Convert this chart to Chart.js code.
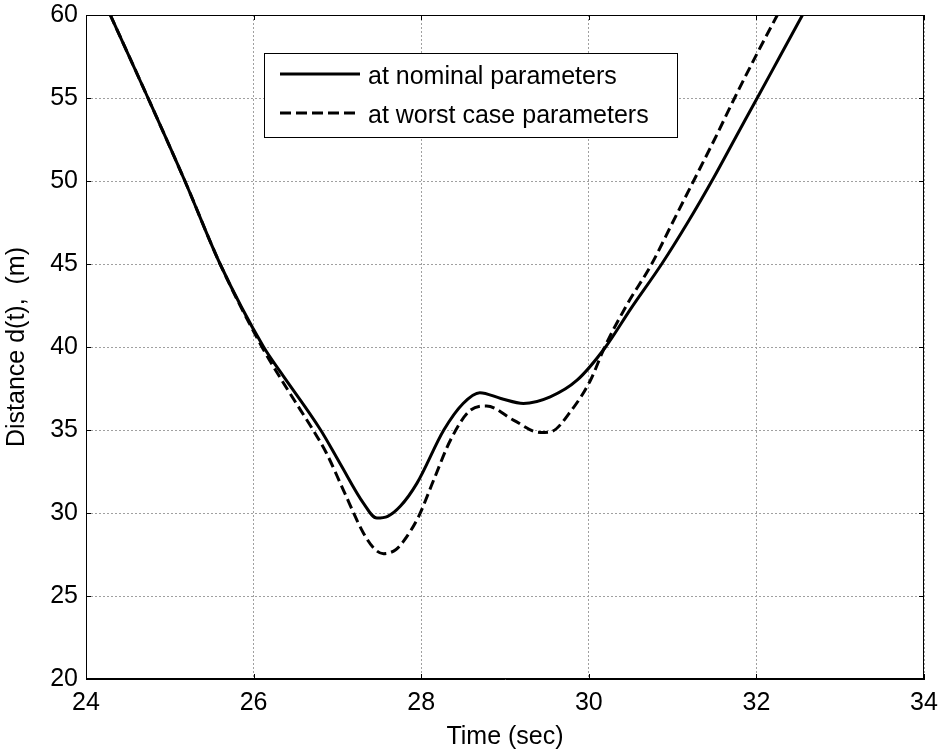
<!DOCTYPE html>
<html>
<head>
<meta charset="utf-8">
<script src="https://cdn.jsdelivr.net/npm/chart.js@4.4.0/dist/chart.umd.min.js"></script>
<style>
html, body { margin: 0; padding: 0; background: #fff; }
</style>
</head>
<body>
<canvas id="chartOne" width="940" height="754"></canvas>
<script>
// nominal parameters (solid)
let tNominal = [24.29, 24.74, 25.18, 25.6, 26.12, 26.32, 26.8, 27.03, 27.31, 27.47, 27.6, 27.75, 27.95, 28.27, 28.5, 28.7, 28.95, 29.22, 29.54, 29.86, 30.2, 30.5, 30.87, 31.18, 31.49, 31.76, 32.01, 32.28, 32.55];
let dNominal = [60, 55, 50, 45, 40, 38.5, 35, 33.0, 30.6, 29.7, 29.8, 30.4, 31.8, 35.0, 36.6, 37.25, 36.9, 36.6, 37.0, 38.0, 40, 42.3, 45, 47.5, 50.2, 52.7, 55, 57.5, 60];
// worst case parameters (dashed)
let tWorst = [24.29, 24.74, 25.18, 25.6, 26.1, 26.36, 26.56, 26.71, 26.87, 27.07, 27.31, 27.45, 27.55, 27.7, 27.79, 27.97, 28.15, 28.35, 28.59, 28.78, 29.1, 29.42, 29.55, 29.78, 30.02, 30.19, 30.45, 30.75, 31.0, 31.25, 31.5, 31.74, 32.0, 32.25];
let dWorst = [60, 55, 50, 45, 40, 37.8, 36.2, 35, 33.6, 31.4, 28.8, 27.8, 27.55, 27.8, 28.3, 29.8, 32.0, 34.4, 36.2, 36.45, 35.6, 34.85, 34.9, 36.1, 38.0, 40, 42.5, 45, 47.5, 50, 52.5, 55, 57.6, 60];

let seriesNames = ['at nominal parameters', 'at worst case parameters'];
let xTicks = [24, 26, 28, 30, 32, 34];
let yTicks = [20, 25, 30, 35, 40, 45, 50, 55, 60];

const fontFam = '"Liberation Sans", Arial, sans-serif';
const fontSize = 25;

function toPoints(ts, ds) {
    const pts = [];
    for (let i = 0; i < ts.length; i++) {
        pts.push({ x: ts[i], y: ds[i] });
    }
    return pts;
}

// box + inward ticks on all four sides, matlab style
const frameTicks = {
    id: 'frameTicks',
    afterDraw(chart) {
        const ctx = chart.ctx;
        const a = chart.chartArea;
        const sx = chart.scales.x, sy = chart.scales.y;
        const len = 5;
        ctx.save();
        ctx.strokeStyle = '#000';
        ctx.lineWidth = 1;
        ctx.setLineDash([]);
        ctx.strokeRect(Math.round(a.left) + 0.5, Math.round(a.top) + 0.5, Math.round(a.right - a.left) - 1, Math.round(a.bottom - a.top) - 1);
        ctx.beginPath();
        xTicks.forEach(v => {
            const px = Math.round(sx.getPixelForValue(v)) + 0.5;
            ctx.moveTo(px, a.bottom); ctx.lineTo(px, a.bottom - len);
            ctx.moveTo(px, a.top); ctx.lineTo(px, a.top + len);
        });
        yTicks.forEach(v => {
            const py = Math.round(sy.getPixelForValue(v)) + 0.5;
            ctx.moveTo(a.left, py); ctx.lineTo(a.left + len, py);
            ctx.moveTo(a.right, py); ctx.lineTo(a.right - len, py);
        });
        ctx.stroke();
        ctx.restore();
    }
};

// legend box inside the plot
const boxLegend = {
    id: 'boxLegend',
    afterDraw(chart) {
        const ctx = chart.ctx;
        const x0 = 264, y0 = 53, w = 413, h = 84;
        ctx.save();
        ctx.fillStyle = '#fff';
        ctx.fillRect(x0, y0, w, h);
        ctx.strokeStyle = '#000';
        ctx.lineWidth = 1;
        ctx.strokeRect(x0 + 0.5, y0 + 0.5, w, h);
        const rows = [74, 113];
        chart.data.datasets.forEach((ds, i) => {
            ctx.beginPath();
            ctx.lineWidth = 3;
            ctx.setLineDash(ds.borderDash ? [11, 5] : []);
            ctx.moveTo(280, rows[i]);
            ctx.lineTo(360, rows[i]);
            ctx.stroke();
            ctx.setLineDash([]);
            ctx.fillStyle = '#000';
            ctx.font = fontSize + 'px ' + fontFam;
            ctx.textBaseline = 'middle';
            ctx.fillText(ds.label, 368, rows[i] + 3);
        });
        ctx.restore();
    }
};

var ctxOne = document.getElementById('chartOne').getContext('2d');

var chartOne = new Chart(ctxOne, {
    type: 'line',
    data: {
        datasets: [{
            label: seriesNames[0],
            data: toPoints(tNominal, dNominal),
            borderColor: '#000',
            borderWidth: 3,
            pointRadius: 0,
            cubicInterpolationMode: 'monotone',
            fill: false
        }, {
            label: seriesNames[1],
            data: toPoints(tWorst, dWorst),
            borderColor: '#000',
            borderWidth: 3,
            borderDash: [10, 5],
            pointRadius: 0,
            cubicInterpolationMode: 'monotone',
            fill: false
        }]
    },
    options: {
        responsive: false,
        animation: false,
        layout: { padding: { top: 15, right: 16, left: 0, bottom: 0 } },
        plugins: {
            legend: { display: false },
            tooltip: { enabled: false }
        },
        scales: {
            x: {
                type: 'linear',
                min: 24,
                max: 34,
                afterFit(scale) {
                    scale.height = 75;
                    scale.paddingLeft = 0;
                    scale.paddingRight = 0;
                },
                afterBuildTicks(scale) { scale.ticks = xTicks.map(v => ({ value: v })); },
                ticks: {
                    color: '#000',
                    font: { family: fontFam, size: fontSize },
                    padding: 9,
                    maxRotation: 0
                },
                grid: { color: '#a0a0a0', lineWidth: 1, drawTicks: false },
                border: { display: true, color: '#000', width: 1, dash: [2, 2] },
                title: {
                    display: true,
                    text: 'Time (sec)',
                    color: '#000',
                    font: { family: fontFam, size: fontSize },
                    padding: { top: 0, bottom: 2 }
                }
            },
            y: {
                min: 20,
                max: 60,
                afterFit(scale) {
                    scale.width = 86;
                    scale.paddingTop = 0;
                    scale.paddingBottom = 0;
                },
                afterBuildTicks(scale) { scale.ticks = yTicks.map(v => ({ value: v })); },
                ticks: {
                    color: '#000',
                    font: { family: fontFam, size: fontSize },
                    padding: 8
                },
                grid: { color: '#a0a0a0', lineWidth: 1, drawTicks: false },
                border: { display: true, color: '#000', width: 1, dash: [2, 2] },
                title: {
                    display: true,
                    text: 'Distance d(t),  (m)',
                    color: '#000',
                    font: { family: fontFam, size: fontSize },
                    padding: { top: 2, bottom: 0 }
                }
            }
        }
    },
    plugins: [frameTicks, boxLegend]
});
</script>
</body>
</html>
